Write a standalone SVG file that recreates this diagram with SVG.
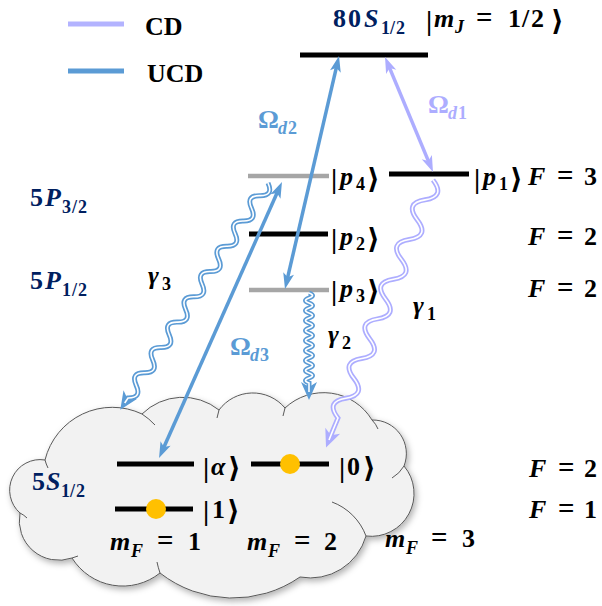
<svg xmlns="http://www.w3.org/2000/svg" xmlns:xlink="http://www.w3.org/1999/xlink" width="602" height="606" viewBox="0 0 602 606">
<style>
.t{font-family:"Liberation Serif","DejaVu Serif",serif;font-weight:bold;fill:#000;font-size:26px}
.it{font-style:italic}
.sb{font-size:18px}
.br{font-size:28px;font-style:normal}
.eq{font-size:29px}
.navy{fill:#002060}
.blue{fill:#5b9bd5}
.lav{fill:#adadff}
.leg{font-family:"Liberation Serif",serif;font-weight:bold;font-size:26px;fill:#000}
.lvK{stroke:#000;stroke-width:5;fill:none}
.lvG{stroke:#a6a6a6;stroke-width:4.5;fill:none}
.arB{stroke:#5b9bd5;stroke-width:3.5;fill:none}
.arL{stroke:#adadff;stroke-width:3.5;fill:none}
.dot{fill:#ffc000}
.cl{fill:#f2f2f2;stroke:#595959;stroke-width:1}
.tick{fill:none;stroke:#595959;stroke-width:1}
</style>
<defs>
<marker id="ahB" markerUnits="userSpaceOnUse" refX="8" refY="0" markerWidth="16" markerHeight="12" orient="auto-start-reverse" style="overflow:visible"><path d="M0,-5.5 L16,0 L0,5.5 L4,0 Z" fill="#5b9bd5"/></marker>
<marker id="ahL" markerUnits="userSpaceOnUse" refX="8" refY="0" markerWidth="16" markerHeight="12" orient="auto-start-reverse" style="overflow:visible"><path d="M0,-5.5 L16,0 L0,5.5 L4,0 Z" fill="#adadff"/></marker>
<marker id="whB" markerUnits="userSpaceOnUse" refX="10" refY="0" markerWidth="18" markerHeight="16" orient="auto" style="overflow:visible"><path d="M0,-8 L18,0 L0,8 L5,0 Z" fill="#5b9bd5"/></marker>
<marker id="whL" markerUnits="userSpaceOnUse" refX="10" refY="0" markerWidth="18" markerHeight="16" orient="auto" style="overflow:visible"><path d="M0,-8 L18,0 L0,8 L5,0 Z" fill="#adadff"/></marker>
<filter id="sh" x="-10%" y="-10%" width="130%" height="130%"><feDropShadow dx="2" dy="3" stdDeviation="3" flood-color="#000" flood-opacity="0.3"/></filter>
<path id="g1p" fill="none" d="M433,180 Q445.75,196.59 425.08,199.84 T417.16,219.67 T409.25,239.51 T401.33,259.34 T393.41,279.18 T385.49,299.01 T377.57,318.85 T369.66,338.68 T361.74,358.52 T353.82,378.35 T345.9,398.19 T337.98,418.02 Q333,430 329,440"/>
<path id="g3p" fill="none" d="M268,183 Q273.93,195.87 259.77,195.65 T251.53,208.29 T243.3,220.94 T235.06,233.58 T226.83,246.23 T218.59,258.88 T210.36,271.52 T202.12,284.17 T193.89,296.81 T185.65,309.46 T177.42,322.11 T169.18,334.75 T160.95,347.4 T152.71,360.04 T144.48,372.69 T136.24,385.34 T128.01,397.98 L124.7,403"/>
<path id="g2p" fill="none" d="M309,293 Q316,295.5 309,298 T309,303 T309,308 T309,313 T309,318 T309,323 T309,328 T309,333 T309,338 T309,343 T309,348 T309,353 T309,358 T309,363 T309,368 T309,373 T309,378 T309,383 L309,392"/>
</defs>

<g id="legend">
<line x1="68" y1="24" x2="124" y2="24" stroke="#b3b3ff" stroke-width="5"/>
<text class="leg" x="145" y="35">CD</text>
<line x1="68" y1="71" x2="124" y2="71" stroke="#5b9bd5" stroke-width="5"/>
<text class="leg" x="147" y="82">UCD</text>
</g>

<g id="cloud-5S">
<path class="cl" filter="url(#sh)" d="M45,460 A69.3,69.3 0 0 1 142,414 A58,58 0 0 1 219,410 A42,42 0 0 1 285,408 A56.4,56.4 0 0 1 372,420 A33.6,33.6 0 0 1 404,466 A42.8,42.8 0 0 1 366,536 A57.8,57.8 0 0 1 300,577 A118,118 0 0 1 160,573 A59.8,59.8 0 0 1 72,558 A39.6,39.6 0 0 1 20,513 A30.5,30.5 0 0 1 45,460 Z"/>
<path class="tick" d="M142,414 A69.3,69.3 0 0 1 155,425 M219,410 Q218,414 217,418 M285,408 Q284,412 283,416 M372,420 Q376,424 378,429 M404,466 A33.6,33.6 0 0 1 392,478 M332,502 A57.8,57.8 0 0 1 366,536 M160,573 Q158,567 157,562 M72,558 Q75,557 78,556 M20,513 Q24,515 27,518 M45,460 Q46,464 48,468"/>
</g>

<g id="lvl-80S">
<path class="lvK" d="M300,55 H428"/>
<text class="t navy"><tspan x="333 348" y="27">80</tspan><tspan class="it" x="364" y="27">S</tspan><tspan class="sb" x="381 390 396" y="34">1/2</tspan></text>
<text class="t"><tspan class="br" x="426" y="30">|</tspan><tspan class="it" x="434" y="27">m</tspan><tspan class="it sb" x="455" y="33">J</tspan><tspan class="eq" x="476" y="27">=</tspan><tspan x="508 522 531" y="27">1/2</tspan><tspan class="br" x="551" y="30">⟩</tspan></text>
</g>

<g id="lvl-p4">
<path class="lvG" d="M248,176 H329"/>
<text class="t"><tspan class="br" x="331" y="188">|</tspan><tspan class="it" x="340" y="185">p</tspan><tspan class="sb" x="356" y="190">4</tspan><tspan class="br" x="367" y="188">⟩</tspan></text>
</g>
<g id="lvl-p1">
<path class="lvK" d="M389,174 H469"/>
<text class="t"><tspan class="br" x="474" y="188">|</tspan><tspan class="it" x="483" y="185">p</tspan><tspan class="sb" x="499" y="190">1</tspan><tspan class="br" x="510" y="188">⟩</tspan></text>
</g>
<g id="lvl-p2">
<path class="lvK" d="M249,234 H328"/>
<text class="t"><tspan class="br" x="331" y="248">|</tspan><tspan class="it" x="340" y="245">p</tspan><tspan class="sb" x="356" y="250">2</tspan><tspan class="br" x="367" y="248">⟩</tspan></text>
</g>
<g id="lvl-p3">
<path class="lvG" d="M249,290 H329"/>
<text class="t"><tspan class="br" x="331" y="300">|</tspan><tspan class="it" x="340" y="297">p</tspan><tspan class="sb" x="356" y="302">3</tspan><tspan class="br" x="367" y="300">⟩</tspan></text>
</g>

<g id="lvl-alpha">
<path class="lvK" d="M117,464 H194"/>
<text class="t"><tspan class="br" x="203" y="477">|</tspan><tspan class="it" x="211" y="475">α</tspan><tspan class="br" x="228" y="477">⟩</tspan></text>
</g>
<g id="lvl-0">
<path class="lvK" d="M251,464 H329"/>
<circle class="dot" cx="290" cy="464" r="10"/>
<text class="t"><tspan class="br" x="339" y="477">|</tspan><tspan x="347" y="475">0</tspan><tspan class="br" x="363" y="477">⟩</tspan></text>
</g>
<g id="lvl-1">
<path class="lvK" d="M115,509 H193"/>
<circle class="dot" cx="156" cy="509" r="10"/>
<text class="t"><tspan class="br" x="203" y="520">|</tspan><tspan x="212" y="518">1</tspan><tspan class="br" x="227" y="520">⟩</tspan></text>
</g>

<g id="labels">
<text class="t navy"><tspan x="30" y="206">5</tspan><tspan class="it" x="45" y="206">P</tspan><tspan class="sb" x="62 72 78" y="213">3/2</tspan></text>
<text class="t navy"><tspan x="30" y="289">5</tspan><tspan class="it" x="45" y="289">P</tspan><tspan class="sb" x="62 72 78" y="296">1/2</tspan></text>
<text class="t navy"><tspan x="32" y="490">5</tspan><tspan class="it" x="46" y="490">S</tspan><tspan class="sb" x="61 70 76" y="497">1/2</tspan></text>
<text class="t"><tspan class="it" x="528" y="185">F</tspan><tspan class="eq" x="557" y="185">=</tspan><tspan x="584" y="185">3</tspan></text>
<text class="t"><tspan class="it" x="528" y="245">F</tspan><tspan class="eq" x="557" y="245">=</tspan><tspan x="584" y="245">2</tspan></text>
<text class="t"><tspan class="it" x="528" y="297">F</tspan><tspan class="eq" x="557" y="297">=</tspan><tspan x="584" y="297">2</tspan></text>
<text class="t"><tspan class="it" x="529" y="477">F</tspan><tspan class="eq" x="558" y="477">=</tspan><tspan x="584" y="477">2</tspan></text>
<text class="t"><tspan class="it" x="529" y="518">F</tspan><tspan class="eq" x="558" y="518">=</tspan><tspan x="584" y="518">1</tspan></text>
<text class="t"><tspan class="it" x="110" y="550">m</tspan><tspan class="it sb" x="131" y="557">F</tspan><tspan class="eq" x="157" y="550">=</tspan><tspan x="188" y="550">1</tspan></text>
<text class="t"><tspan class="it" x="247" y="550">m</tspan><tspan class="it sb" x="268" y="557">F</tspan><tspan class="eq" x="294" y="550">=</tspan><tspan x="324" y="550">2</tspan></text>
<text class="t"><tspan class="it" x="385" y="547">m</tspan><tspan class="it sb" x="406" y="554">F</tspan><tspan class="eq" x="431" y="547">=</tspan><tspan x="462" y="547">3</tspan></text>
<text class="t blue"><tspan x="258" y="128">Ω</tspan><tspan class="it sb" x="278" y="134">d</tspan><tspan class="sb" x="288" y="134">2</tspan></text>
<text class="t lav"><tspan x="428" y="113">Ω</tspan><tspan class="it sb" x="448" y="119">d</tspan><tspan class="sb" x="458" y="119">1</tspan></text>
<text class="t blue"><tspan x="230" y="355">Ω</tspan><tspan class="it sb" x="250" y="361">d</tspan><tspan class="sb" x="260" y="361">3</tspan></text>
<text class="t"><tspan class="it" x="148" y="284">γ</tspan><tspan class="sb" x="162" y="290">3</tspan></text>
<text class="t"><tspan class="it" x="328" y="343">γ</tspan><tspan class="sb" x="342" y="349">2</tspan></text>
<text class="t"><tspan class="it" x="413" y="314">γ</tspan><tspan class="sb" x="427" y="320">1</tspan></text>
</g>

<g id="connectors">
<use id="gamma3" xlink:href="#g3p" href="#g3p" stroke="#5b9bd5" stroke-width="5" marker-end="url(#whB)"/>
<use xlink:href="#g3p" href="#g3p" stroke="#ffffff" stroke-width="1.6"/>
<use id="gamma2" xlink:href="#g2p" href="#g2p" stroke="#5b9bd5" stroke-width="5" marker-end="url(#whB)"/>
<use xlink:href="#g2p" href="#g2p" stroke="#ffffff" stroke-width="1.6"/>
<use id="gamma1" xlink:href="#g1p" href="#g1p" stroke="#adadff" stroke-width="5" marker-end="url(#whL)"/>
<use xlink:href="#g1p" href="#g1p" stroke="#ffffff" stroke-width="1.6"/>
<path id="omega-d2" class="arB" d="M286.8,281.2 L337.2,63.8" marker-start="url(#ahB)" marker-end="url(#ahB)"/>
<path id="omega-d3" class="arB" d="M162.3,450.7 L278.7,189.3" marker-start="url(#ahB)" marker-end="url(#ahB)"/>
<path id="omega-d1" class="arL" d="M388.1,64.4 L429.9,164.6" marker-start="url(#ahL)" marker-end="url(#ahL)"/>
</g>
</svg>
